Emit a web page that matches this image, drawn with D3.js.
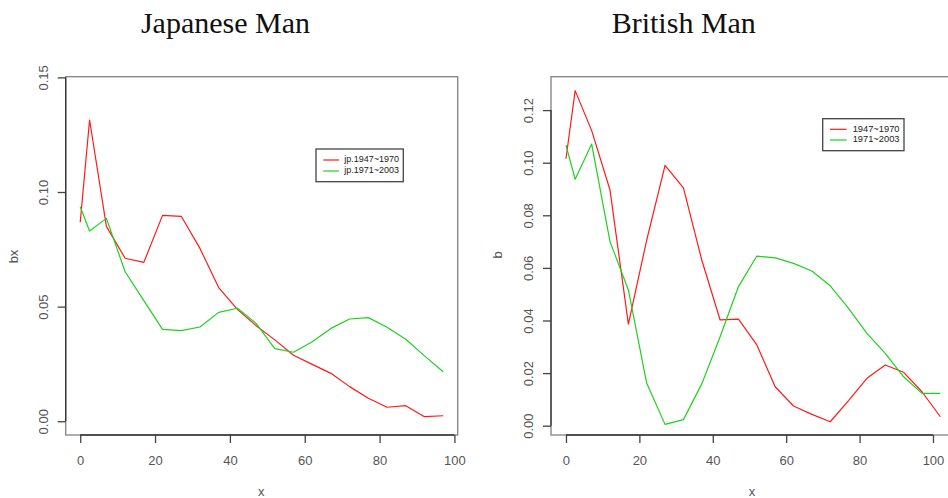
<!DOCTYPE html>
<html>
<head>
<meta charset="utf-8">
<script src="https://cdn.jsdelivr.net/npm/d3@7"></script>
<style>
  html, body { margin: 0; padding: 0; background: #fff; }
  svg { display: block; }
  .tick text { font-family: "Liberation Sans", Arial, sans-serif; }
</style>
</head>
<body>
<svg id="chart" width="948" height="498"></svg>
<script>
// Age midpoints and mortality-improvement coefficients b(x)
const ageJP = [0, 2.5, 7, 12, 17, 22, 27, 32, 37, 42, 47, 52, 57, 62, 67, 72, 77, 82, 87, 92, 97];
const jpEarly = [0.0868, 0.1314, 0.0850, 0.0711, 0.0693, 0.0898, 0.0894, 0.0754, 0.0583, 0.0488,
                 0.0417, 0.0355, 0.0288, 0.0248, 0.0209, 0.0151, 0.0100, 0.0061, 0.0068, 0.0020, 0.0024];
const jpLate  = [0.0936, 0.0830, 0.0885, 0.0652, 0.0526, 0.0401, 0.0395, 0.0411, 0.0475, 0.0493,
                 0.0427, 0.0317, 0.0301, 0.0347, 0.0405, 0.0446, 0.0452, 0.0410, 0.0358, 0.0285, 0.0216];

const ageGB = [0, 2.5, 7, 12, 17, 22, 27, 32, 37, 42, 47, 52, 57, 62, 67, 72, 77, 82, 87, 92, 97, 102];
const gbEarly = [0.1015, 0.1274, 0.1122, 0.0896, 0.0386, 0.0706, 0.0990, 0.0904, 0.0630, 0.0402, 0.0405,
                 0.0307, 0.0148, 0.0075, 0.0043, 0.0015, 0.0095, 0.0180, 0.0231, 0.0203, 0.0129, 0.0034];
const gbLate  = [0.1067, 0.0937, 0.1071, 0.0700, 0.0516, 0.0161, 0.0005, 0.0023, 0.0159, 0.0338, 0.0529,
                 0.0645, 0.0638, 0.0617, 0.0588, 0.0532, 0.0446, 0.0351, 0.0275, 0.0186, 0.0123, 0.0123];

const xTicks = [0, 20, 40, 60, 80, 100];
const yTicksJP = [0.00, 0.05, 0.10, 0.15];
const yTicksGB = [0.00, 0.02, 0.04, 0.06, 0.08, 0.10, 0.12];

const legendJP = ["jp.1947~1970", "jp.1971~2003"];
const legendGB = ["1947~1970", "1971~2003"];

const RED = "#ff1a1a";
const GREEN = "#1fd11f";
const FONT = "'Liberation Sans', Arial, Helvetica, sans-serif";
const SERIF = "'Liberation Serif', 'Times New Roman', Times, serif";

const svg = d3.select("#chart");
svg.append("rect").attr("width", 948).attr("height", 498).attr("fill", "#fff");

function panel(cfg) {
  const x = d3.scaleLinear().domain(cfg.xDomain).range([cfg.box.x0, cfg.box.x1]);
  const y = d3.scaleLinear().domain(cfg.yDomain).range([cfg.box.y1, cfg.box.y0]);
  const g = svg.append("g");

  // plot frame
  g.append("rect")
    .attr("x", cfg.box.x0).attr("y", cfg.box.y0)
    .attr("width", cfg.box.x1 - cfg.box.x0).attr("height", cfg.box.y1 - cfg.box.y0)
    .attr("fill", "none").attr("stroke", "#8a8a8a").attr("stroke-width", 1.4);

  // bottom axis
  const xa = g.append("g").attr("transform", `translate(0,${cfg.box.y1})`)
    .call(d3.axisBottom(x).tickValues(xTicks).tickSizeOuter(0).tickSize(8).tickPadding(13)
      .tickFormat(d3.format("d")));
  xa.select(".domain").remove();
  xa.append("line")
    .attr("x1", x(xTicks[0])).attr("x2", x(xTicks[xTicks.length - 1]))
    .attr("stroke", "#333").attr("stroke-width", 1.3);
  xa.selectAll(".tick line").attr("stroke", "#444").attr("stroke-width", 1.3);
  xa.selectAll(".tick text").attr("font-size", 13).attr("fill", "#555").attr("font-family", FONT);

  // left axis, labels run parallel to the axis
  const ya = g.append("g").attr("transform", `translate(${cfg.box.x0},0)`)
    .call(d3.axisLeft(y).tickValues(cfg.yTicks).tickSizeOuter(0).tickSize(8)
      .tickFormat(d3.format(".2f")));
  ya.select(".domain").remove();
  ya.append("line")
    .attr("y1", y(cfg.yTicks[0])).attr("y2", y(cfg.yTicks[cfg.yTicks.length - 1]))
    .attr("stroke", "#333").attr("stroke-width", 1.3);
  ya.selectAll(".tick line").attr("stroke", "#444").attr("stroke-width", 1.3);
  ya.selectAll(".tick text")
    .attr("font-size", 13).attr("fill", "#555").attr("font-family", FONT)
    .attr("x", null).attr("dy", null)
    .attr("text-anchor", "middle")
    .attr("transform", "translate(-21,0) rotate(-90)")
    .attr("dominant-baseline", "middle");

  // axis titles
  g.append("text")
    .attr("x", (x(0) + x(100)) / 2 + cfg.xTitleShift).attr("y", 496)
    .attr("text-anchor", "middle").attr("font-family", FONT).attr("font-size", 13)
    .attr("fill", "#555").text("x");
  g.append("text")
    .attr("transform", `translate(${cfg.yTitleX},${cfg.yTitleY}) rotate(-90)`)
    .attr("text-anchor", "middle").attr("dominant-baseline", "middle")
    .attr("font-family", FONT).attr("font-size", 13).attr("fill", "#555").text(cfg.yTitle);

  // series
  const clipId = "clip" + cfg.id;
  svg.append("clipPath").attr("id", clipId).append("rect")
    .attr("x", cfg.box.x0).attr("y", cfg.box.y0)
    .attr("width", cfg.box.x1 - cfg.box.x0).attr("height", cfg.box.y1 - cfg.box.y0);
  const line = d3.line().x(d => x(d[0])).y(d => y(d[1]));
  const series = [
    { vals: cfg.early, color: RED },
    { vals: cfg.late, color: GREEN }
  ];
  series.forEach(s => {
    g.append("path")
      .datum(cfg.age.map((a, i) => [a, s.vals[i]]))
      .attr("d", line)
      .attr("fill", "none").attr("stroke", s.color).attr("stroke-width", 1.2)
      .attr("stroke-linejoin", "round")
      .attr("clip-path", `url(#${clipId})`);
  });

  // legend
  const L = cfg.legend;
  const lg = g.append("g");
  lg.append("rect")
    .attr("x", L.x).attr("y", L.y).attr("width", L.w).attr("height", L.h)
    .attr("fill", "#fff").attr("stroke", "#444").attr("stroke-width", 1.3);
  cfg.legendLabels.forEach((lab, i) => {
    const ly = L.y + L.row0 + i * L.rowGap;
    lg.append("line")
      .attr("x1", L.x + L.lineX0).attr("x2", L.x + L.lineX1)
      .attr("y1", ly).attr("y2", ly)
      .attr("stroke", [RED, GREEN][i]).attr("stroke-width", 1.2);
    lg.append("text")
      .attr("x", L.x + L.textX).attr("y", ly)
      .attr("dominant-baseline", "middle")
      .attr("font-family", FONT).attr("font-size", L.fs).attr("fill", "#222").text(lab);
  });

  // heading
  svg.append("text")
    .attr("x", cfg.titleX).attr("y", 33)
    .attr("text-anchor", "middle").attr("font-family", SERIF).attr("font-size", 30)
    .attr("fill", "#111").text(cfg.title);
}

panel({
  id: "jp",
  title: "Japanese Man", titleX: 225.5,
  box: { x0: 65.7, x1: 457.7, y0: 76.7, y1: 435 },
  xDomain: [-3.88, 100.88], yDomain: [-0.006, 0.1503],
  yTicks: yTicksJP, yTitle: "bx", yTitleX: 15, yTitleY: 256.5, xTitleShift: -6,
  age: ageJP, early: jpEarly, late: jpLate,
  legendLabels: legendJP,
  legend: { x: 316, y: 149, w: 87.3, h: 32.7, row0: 11, rowGap: 11, lineX0: 7.3, lineX1: 23, textX: 28.3, fs: 9 }
});

panel({
  id: "gb",
  title: "British Man", titleX: 683.8,
  box: { x0: 551, x1: 955.3, y0: 76.7, y1: 435 },
  xDomain: [-4.08, 106.08], yDomain: [-0.00354, 0.1327],
  yTicks: yTicksGB, yTitle: "b", yTitleX: 499, yTitleY: 255, xTitleShift: 2.5,
  age: ageGB, early: gbEarly, late: gbLate,
  legendLabels: legendGB,
  legend: { x: 822.7, y: 118.7, w: 81.3, h: 32, row0: 10.6, rowGap: 10.7, lineX0: 7.3, lineX1: 24, textX: 30, fs: 9.3 }
});
</script>
</body>
</html>
